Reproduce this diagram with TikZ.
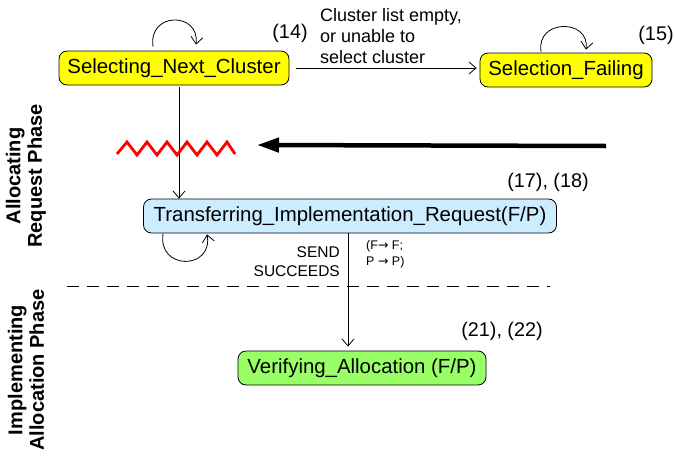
\documentclass[tikz,border=0pt]{standalone}
\usepackage{fontspec}
\setmainfont{Liberation Sans}
\newfontfamily\symfont{DejaVu Sans}
\usetikzlibrary{arrows.meta,calc}

\definecolor{stateyellow}{HTML}{FFFF00}
\definecolor{stateblue}{HTML}{CCECFF}
\definecolor{stategreen}{HTML}{99FF66}
\definecolor{zigred}{HTML}{FF0000}

\tikzset{
  statebox/.style={draw=black, line width=0.8pt, rounded corners=8pt,
    minimum height=34pt, inner sep=0pt,
    font=\fontsize{20.4}{24}\selectfont},
  thinarrow/.style={draw=black, line width=0.8pt,
    -{Straight Barb[length=7pt,width=12pt,line width=0.8pt]}},
  reflabel/.style={inner sep=0pt, font=\fontsize{19.8}{23}\selectfont},
  guardlabel/.style={inner sep=0pt, font=\fontsize{18}{21}\selectfont},
  phaselabel/.style={inner sep=0pt, rotate=90, align=center,
    font=\fontsize{20}{21.5}\selectfont\bfseries},
}

\begin{document}
\begin{tikzpicture}[x=1pt, y=-1pt]
\useasboundingbox (0,0) rectangle (674,455);

% states
\node[statebox, fill=stateyellow, minimum width=230pt] (sel) at (174,68) {Selecting\_Next\_Cluster};
\node[statebox, fill=stateyellow, minimum width=172pt] (fail) at (566,70) {Selection\_Failing};
\node[statebox, fill=stateblue, minimum width=413pt] (trans) at (350,216) {Transferring\_Implementation\_Request(F/P)};
\node[statebox, fill=stategreen, minimum width=248pt] (ver) at (362,368) {Verifying\_Allocation (F/P)};

% reference numbers
\node[reflabel] (r14) at (290,33) {(14)};
\node[reflabel] (r15) at (656,35) {(15)};
\node[reflabel] (r1718) at (548,182) {(17), (18)};
\node[reflabel] (r2122) at (502,331) {(21), (22)};

% self loops
\draw[thinarrow] ($(sel.north)+(-21,-4)$) .. controls +(-5,-35) and +(4,-33) .. ($(sel.north)+(22,-6)$);
\draw[thinarrow] ($(fail.north)+(-25,-1)$) .. controls +(-5,-33) and +(4,-31) .. ($(fail.north)+(20,-3)$);
\draw[thinarrow] ($(trans.south west)+(20,0)$) .. controls +(-6,37) and +(6,36) .. ($(trans.south west)+(64,1)$);

% transitions
\draw[thinarrow, shorten <=7pt, shorten >=3pt] (sel.east) -- (sel.east -| fail.west);
\node[guardlabel, anchor=west, align=left] (guard) at (320,36)
  {Cluster list empty,\\or unable to\\select cluster};

\coordinate (seldown) at ($(sel.south)+(5,2)$);
\draw[thinarrow] (seldown) -- (seldown |- trans.north);

\coordinate (transdown) at ($(trans.south)+(-2,0)$);
\draw[thinarrow, shorten >=4pt] (transdown) -- (transdown |- ver.north);
\node[inner sep=0pt, anchor=east, align=right, font=\fontsize{15.5}{19}\selectfont] (send)
  at (340,262) {SEND\\SUCCEEDS};
\node[inner sep=0pt, anchor=west, align=left, font=\fontsize{12.5}{16}\selectfont] (map)
  at (366,254) {(F{\symfont→} F;\\P {\symfont→} P)};

% interrupting event
\draw[zigred, line width=2.8pt, line join=miter]
  (117,154) -- (127,142) -- (137,155) -- (147,142) -- (157,155) -- (167,142)
  -- (177,155) -- (187,142) -- (197,155) -- (207,142) -- (217,155) -- (227,142) -- (235,154);
\coordinate (evtstart) at (606,146);
\coordinate (evtend) at (257,145);
\draw[line width=4.5pt, -{Triangle[length=22pt,width=14pt]}] (evtstart) -- (evtend);

% phase separator
\coordinate (sepL) at (67,286);
\coordinate (sepR) at (550,286);
\draw[line width=0.8pt, dash pattern=on 12pt off 8pt] (sepL) -- (sepR);

% phase labels
\node[phaselabel] (ph1) at (26,176) {Allocating\\Request Phase};
\node[phaselabel] (ph2) at (26,370) {Implementing\\Allocation Phase};
\end{tikzpicture}
\end{document}
